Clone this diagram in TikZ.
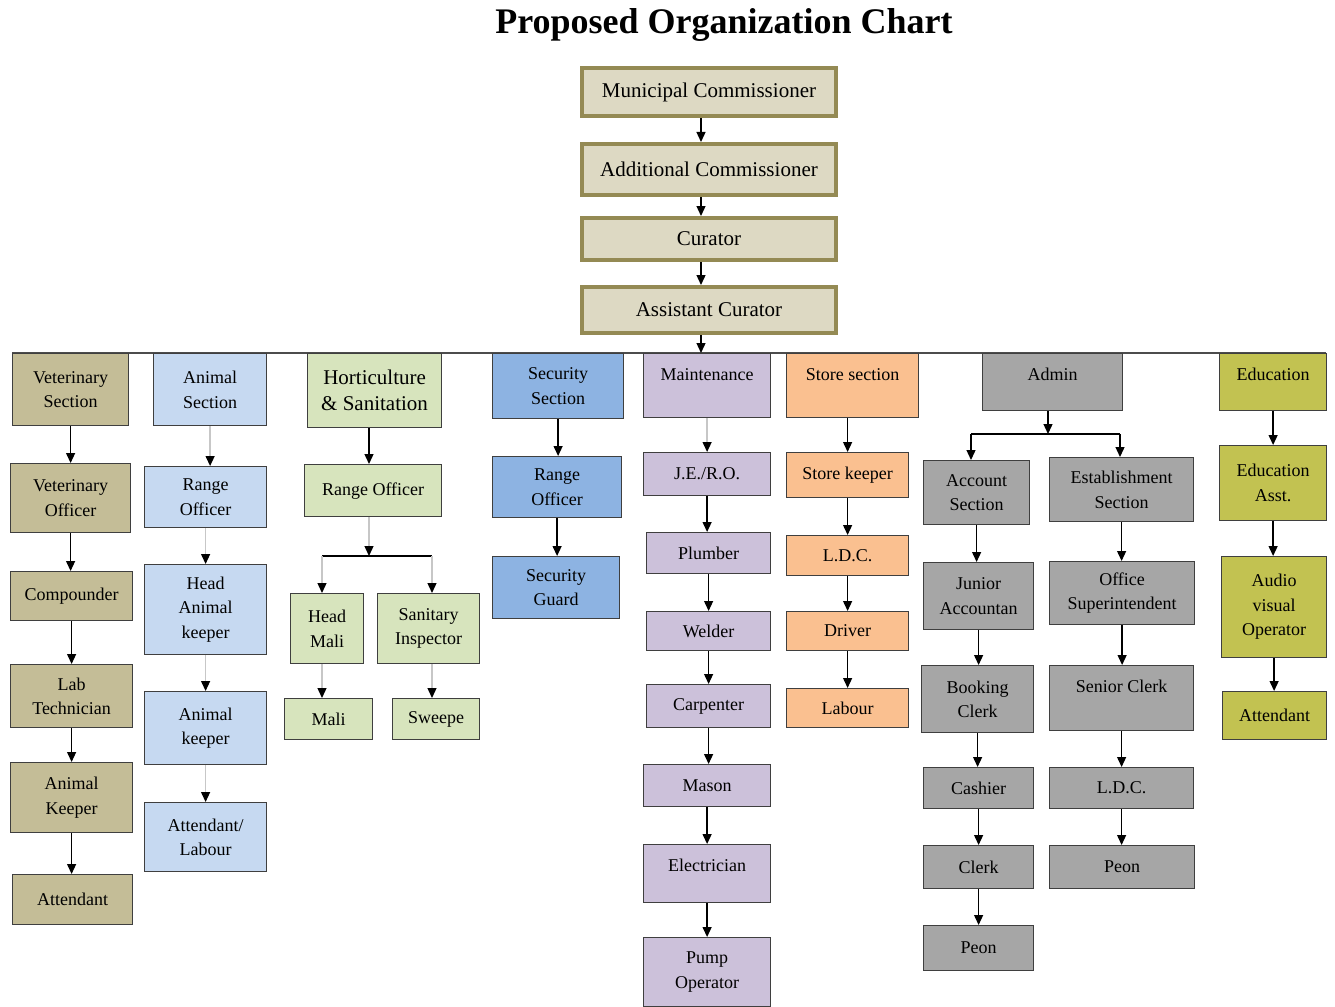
\documentclass[tikz,border=0pt]{standalone}
\usepackage{fontspec}
\setmainfont{Liberation Serif}
\usetikzlibrary{arrows.meta}
\definecolor{topf}{HTML}{DDD9C3}
\definecolor{topb}{HTML}{948A54}
\definecolor{bordc}{HTML}{3F3F3F}
\definecolor{vetc}{HTML}{C4BD97}
\definecolor{anic}{HTML}{C6D9F1}
\definecolor{hortc}{HTML}{D7E4BD}
\definecolor{secc}{HTML}{8DB3E2}
\definecolor{mntc}{HTML}{CCC1DA}
\definecolor{stoc}{HTML}{FAC090}
\definecolor{admc}{HTML}{A6A6A6}
\definecolor{educ}{HTML}{C2C251}
\newcommand\bx[8][]{\pgfmathsetmacro\myW{#6-#4}\pgfmathsetmacro\myH{#7-#5}%
  \node[#3,anchor=north west,minimum width=\myW pt,minimum height=\myH pt,#1] (#2) at (#4,#5) {#8};}
\newcommand\bxt[7]{\pgfmathsetmacro\myW{#5-#3}\pgfmathsetmacro\myH{#6-#4}\pgfmathsetmacro\myD{#6-#4-4-25}%
  \node[#2,anchor=north west,minimum width=\myW pt,minimum height=\myH pt,text height=25pt,text depth=\myD pt] (#1) at (#3,#4) {#7};}
\tikzset{
  box/.style={draw=bordc,line width=1.2pt,align=center,inner sep=2pt,font=\fontsize{18}{24.5}\selectfont,text=black},
  topbox/.style={box,fill=topf,draw=topb,line width=4pt,font=\fontsize{21}{25}\selectfont},
  vet/.style={box,fill=vetc}, ani/.style={box,fill=anic}, hort/.style={box,fill=hortc},
  sec/.style={box,fill=secc}, mnt/.style={box,fill=mntc}, sto/.style={box,fill=stoc},
  adm/.style={box,fill=admc}, edu/.style={box,fill=educ},
  arr/.style={draw=black,line width=1.3pt,-{Triangle[length=10pt,width=9pt]}},
  garr/.style={draw=black!22,line width=1.3pt,-{Triangle[length=10pt,width=9pt,color=black]}},
  bar/.style={draw=black,line width=1.3pt},
  bus/.style={draw=black!70,line width=1.5pt}
}
\begin{document}
\begin{tikzpicture}[x=1pt,y=-1pt]
\useasboundingbox (0,0) rectangle (1335,1006);
\node[font=\bfseries\fontsize{36}{40}\selectfont] (title) at (724,25) {Proposed Organization Chart};
% bus
\coordinate (busL) at (12,353);
\coordinate (busR) at (1326,353);
\coordinate (busM) at (701,353);
\draw[bus] (busL) -- (busR);
% top chain
\bx{mc}{topbox}{580}{66}{834}{114}{Municipal Commissioner}
\bx{adc}{topbox}{580}{142}{834}{193}{Additional Commissioner}
\bx{cur}{topbox}{580}{216}{834}{258}{Curator}
\bx{acur}{topbox}{580}{285}{834}{331}{Assistant Curator}
% veterinary
\bx{vs}{vet}{12}{353}{128}{425}{Veterinary\\Section}
\bx{vo}{vet}{10}{463}{130}{532}{Veterinary\\Officer}
\bx{comp}{vet}{10}{571}{132}{620}{Compounder}
\bx{lab}{vet}{10}{664}{132}{727}{Lab\\Technician}
\bx{akp}{vet}{10}{762}{132}{832}{Animal\\Keeper}
\bx{vatt}{vet}{12}{874}{132}{924}{Attendant}
% animal
\bx{as}{ani}{153}{353}{266}{425}{Animal\\Section}
\bx{ro1}{ani}{144}{466}{266}{527}{Range\\Officer}
\bx{hak}{ani}{144}{564}{266}{654}{Head\\Animal\\keeper}
\bx{ak2}{ani}{144}{691}{266}{764}{Animal\\keeper}
\bx{al}{ani}{144}{802}{266}{871}{Attendant/\\Labour}
% horticulture
\bx[font=\fontsize{21}{26}\selectfont]{hs}{hort}{307}{353}{441}{427}{Horticulture\\\& Sanitation}
\bx{ro2}{hort}{304}{464}{441}{516}{Range Officer}
\bx{hm}{hort}{290}{593}{363}{663}{Head\\Mali}
\bx{si}{hort}{377}{593}{479}{663}{Sanitary\\Inspector}
\bx{mali}{hort}{284}{698}{372}{739}{Mali}
\bx{sw}{hort}{392}{698}{479}{739}{Sweepe}
% security
\bx{ss}{sec}{492}{353}{623}{418}{Security\\Section}
\bx{ro3}{sec}{492}{456}{621}{517}{Range\\Officer}
\bx{sg}{sec}{492}{556}{619}{618}{Security\\Guard}
% maintenance
\bxt{mt}{mnt}{643}{353}{770}{417}{Maintenance}
\bx{je}{mnt}{643}{452}{770}{495}{J.E./R.O.}
\bx{pl}{mnt}{646}{532}{770}{573}{Plumber}
\bx{we}{mnt}{646}{611}{770}{650}{Welder}
\bx{ca}{mnt}{646}{684}{770}{727}{Carpenter}
\bx{ma}{mnt}{643}{764}{770}{806}{Mason}
\bxt{el}{mnt}{643}{844}{770}{902}{Electrician}
\bx{po}{mnt}{643}{937}{770}{1006}{Pump\\Operator}
% store
\bxt{st}{sto}{786}{353}{918}{417}{Store section}
\bx{sk}{sto}{786}{452}{908}{497}{Store keeper}
\bx{ldca}{sto}{786}{535}{908}{575}{L.D.C.}
\bx{dr}{sto}{786}{611}{908}{650}{Driver}
\bx{lab2}{sto}{786}{688}{908}{727}{Labour}
% admin
\bxt{ad}{adm}{982}{353}{1122}{410}{Admin}
\bx{acs}{adm}{923}{460}{1029}{524}{Account\\Section}
\bx{es}{adm}{1049}{457}{1193}{521}{Establishment\\Section}
\bx{ja}{adm}{923}{562}{1033}{629}{Junior\\Accountan}
\bx{os}{adm}{1049}{561}{1194}{624}{Office\\Superintendent}
\bx{bc}{adm}{921}{665}{1033}{732}{Booking\\Clerk}
\bxt{sc}{adm}{1049}{665}{1193}{730}{Senior Clerk}
\bx{cash}{adm}{923}{767}{1033}{808}{Cashier}
\bx{ldcb}{adm}{1049}{767}{1193}{808}{L.D.C.}
\bx{clk}{adm}{923}{845}{1033}{888}{Clerk}
\bx{peona}{adm}{923}{925}{1033}{970}{Peon}
\bx{peonb}{adm}{1049}{845}{1194}{888}{Peon}
% education
\bxt{ed}{edu}{1219}{353}{1326}{410}{Education}
\bx{ea}{edu}{1219}{445}{1326}{520}{Education\\Asst.}
\bx{av}{edu}{1221}{556}{1326}{657}{Audio\\visual\\Operator}
\bx{eatt}{edu}{1222}{691}{1326}{739}{Attendant}
% top connectors
\draw[arr] (mc.south -| busM) -- (adc.north -| busM);
\draw[arr] (adc.south -| busM) -- (cur.north -| busM);
\draw[arr] (cur.south -| busM) -- (acur.north -| busM);
\draw[arr] (acur.south -| busM) -- (busM);
% vet
\foreach \a/\b in {vs/vo,vo/comp,comp/lab,lab/akp,akp/vatt}
  \draw[arr] (\a.south) -- (\a.south |- \b.north);
% animal
\foreach \a/\b in {as/ro1,ro1/hak,hak/ak2,ak2/al}
  \draw[garr] (\a.south) -- (\a.south |- \b.north);
% horticulture
\coordinate (hbar) at (369,556);
\coordinate (hbarL) at (322,556);
\coordinate (hbarR) at (432,556);
\draw[arr] (hs.south -| hbar) -- (hbar |- ro2.north);
\draw[garr] (ro2.south -| hbar) -- (hbar);
\draw[bar] (hbarL) -- (hbarR);
\draw[garr] (hbarL) -- (hbarL |- hm.north);
\draw[garr] (hbarR) -- (hbarR |- si.north);
\draw[garr] (hm.south -| hbarL) -- (hbarL |- mali.north);
\draw[garr] (si.south -| hbarR) -- (hbarR |- sw.north);
% security
\foreach \a/\b in {ss/ro3,ro3/sg}
  \draw[arr] (\a.south) -- (\a.south |- \b.north);
% maintenance
\draw[garr] (mt.south) -- (mt.south |- je.north);
\foreach \a/\b in {je/pl,pl/we,we/ca,ca/ma,ma/el,el/po}
  \draw[arr] (\a.south) -- (\a.south |- \b.north);
% store
\foreach \a/\b in {st/sk,sk/ldca,ldca/dr,dr/lab2}
  \draw[arr] (\b.north |- \a.south) -- (\b.north);
% admin
\coordinate (abar) at (1048,434);
\coordinate (abarL) at (971,434);
\coordinate (abarR) at (1120,434);
\draw[arr] (ad.south -| abar) -- (abar);
\draw[bar] (abarL) -- (abarR);
\draw[arr] (abarL) -- (abarL |- acs.north);
\draw[arr] (abarR) -- (abarR |- es.north);
\foreach \a/\b in {acs/ja,ja/bc,bc/cash,cash/clk,clk/peona}
  \draw[arr] (\a.south) -- (\a.south |- \b.north);
\foreach \a/\b in {es/os,os/sc,sc/ldcb,ldcb/peonb}
  \draw[arr] (\a.south) -- (\a.south |- \b.north);
% education
\foreach \a/\b in {ed/ea,ea/av,av/eatt}
  \draw[arr] (\a.south) -- (\a.south |- \b.north);
\end{tikzpicture}
\end{document}
